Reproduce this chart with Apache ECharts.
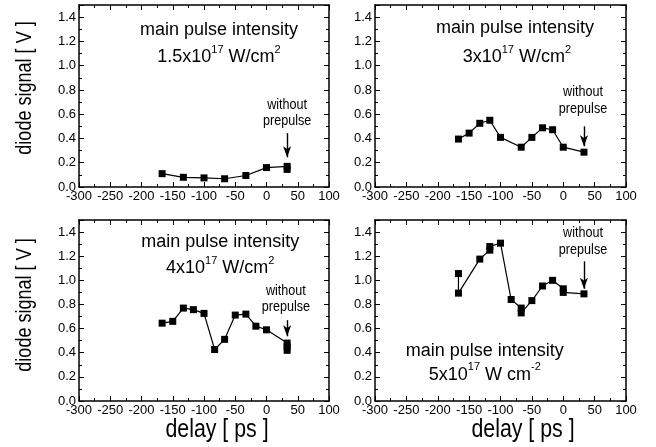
<!DOCTYPE html>
<html>
<head>
<meta charset="utf-8">
<script src="https://cdn.jsdelivr.net/npm/echarts@6/dist/echarts.min.js"></script>
<style>
  html, body { margin: 0; padding: 0; background: #fff; }
  #chart { width: 656px; height: 447px; }
</style>
</head>
<body>
<div id="chart"></div>
<script>
// Delay [ps] and diode signal [V] for each main pulse intensity.
// Repeated delays are repeated shots at the same setting.
const delays15 = [-167, -133, -100, -67, -33, 0, 33, 33];
const signal15 = [0.11, 0.08, 0.075, 0.068, 0.095, 0.16, 0.17, 0.145];

const delays3 = [-167, -150, -133, -117, -100, -67, -50, -33, -17, 0, 33];
const signal3 = [0.395, 0.444, 0.525, 0.55, 0.409, 0.328, 0.409, 0.488, 0.472, 0.328, 0.287];

const delays4 = [-167, -150, -133, -117, -100, -83, -67, -50, -33, -17, 0, 33, 33, 33];
const signal4 = [0.645, 0.66, 0.77, 0.757, 0.726, 0.427, 0.511, 0.712, 0.72, 0.62, 0.59, 0.48, 0.45, 0.42];

const delays5 = [-167, -167, -133, -117, -117, -100, -83, -67, -67, -50, -33, -17, 0, 0, 33];
const signal5 = [1.056, 0.894, 1.176, 1.25, 1.28, 1.308, 0.841, 0.77, 0.73, 0.832, 0.953, 1.0, 0.93, 0.90, 0.888];

// Intensity captions: [mantissa, exponent, unit, unit exponent]
const captions = [
  ['1.5x10', '17', ' W/cm', '2'],
  ['3x10', '17', ' W/cm', '2'],
  ['4x10', '17', ' W/cm', '2'],
  ['5x10', '17', ' W cm', '-2']
];

// Arrow marking the shot without prepulse: [delay, from signal, to signal]
const arrows = [
  [33, 0.444, 0.245],
  [33, 0.50, 0.336],
  [33, 0.67, 0.536],
  [33, 1.157, 0.93]
];

const xMin = -300, xMax = 100, xStep = 50;
const yMin = 0, yMax = 1.5, yStep = 0.2;

const SANS = "'Liberation Sans', Arial, Helvetica, sans-serif";

const panels = [
  { xs: delays15, ys: signal15, grid: { left: 79, top: 5, width: 250, height: 182 },
    title: [-76, 1.29], sub: [-76, 1.084], note: [33, 0.677, 0.544] },
  { xs: delays3, ys: signal3, grid: { left: 375, top: 5, width: 251, height: 182 },
    title: [-77, 1.308], sub: [-74, 1.084], note: [31.5, 0.785, 0.644] },
  { xs: delays4, ys: signal4, grid: { left: 79, top: 220, width: 250, height: 181 },
    title: [-74, 1.316], sub: [-74, 1.115], note: [31, 0.914, 0.78] },
  { xs: delays5, ys: signal5, grid: { left: 375, top: 220, width: 251, height: 181 },
    title: [-125, 0.41], sub: [-125, 0.235], note: [31.5, 1.39, 1.249] }
];

const frameLine = { show: true, onZero: false, lineStyle: { color: '#000', width: 1.5 } };
const tickIn = (len) => ({ show: true, inside: true, length: len, lineStyle: { color: '#000', width: 1 } });
const minorIn = { show: true, splitNumber: 2, length: 3, lineStyle: { color: '#000', width: 1 } };

const grids = [], xAxes = [], yAxes = [], series = [];

panels.forEach((p, i) => {
  grids.push(p.grid);
  const xBase = { type: 'value', gridIndex: i, min: xMin, max: xMax, interval: xStep,
    axisLine: frameLine, axisTick: tickIn(5), minorTick: minorIn, splitLine: { show: false } };
  const yBase = { type: 'value', gridIndex: i, min: yMin, max: yMax, interval: yStep,
    axisLine: frameLine, axisTick: tickIn(5), minorTick: minorIn, splitLine: { show: false } };

  xAxes.push(Object.assign({}, xBase, {
    position: 'bottom',
    axisLabel: { show: true, color: '#000', fontFamily: SANS, fontSize: 13, margin: 3 }
  }));
  xAxes.push(Object.assign({}, xBase, { position: 'top', axisLabel: { show: false } }));

  yAxes.push(Object.assign({}, yBase, {
    position: 'left',
    axisLabel: { show: true, color: '#000', fontFamily: SANS, fontSize: 13, margin: 3,
      formatter: (v) => (v > 1.45 ? '' : v.toFixed(1)) }
  }));
  yAxes.push(Object.assign({}, yBase, { position: 'right', axisLabel: { show: false } }));

  const a = arrows[i];
  series.push({
    type: 'line',
    xAxisIndex: i * 2,
    yAxisIndex: i * 2,
    data: p.xs.map((x, k) => [x, p.ys[k]]),
    symbol: 'rect',
    symbolSize: 7,
    showAllSymbol: true,
    itemStyle: { color: '#000' },
    lineStyle: { color: '#000', width: 1.2 },
    animation: false,
    silent: true,
    markLine: {
      silent: true,
      animation: false,
      symbol: ['none', 'arrow'],
      symbolSize: [6, 11],
      label: { show: false },
      lineStyle: { color: '#000', width: 1.4, type: 'solid' },
      data: [[{ coord: [a[0], a[1]] }, { coord: [a[0], a[2]] }]]
    }
  });
});

const chart = echarts.init(document.getElementById('chart'), null, { renderer: 'canvas' });
chart.setOption({
  backgroundColor: '#fff',
  animation: false,
  grid: grids,
  xAxis: xAxes,
  yAxis: yAxes,
  series: series
});

// Captions and axis titles placed from data coordinates of each panel.
const graphics = [];
panels.forEach((p, i) => {
  const c = captions[i];
  const t = chart.convertToPixel({ gridIndex: i }, p.title);
  const s = chart.convertToPixel({ gridIndex: i }, p.sub);
  const n1 = chart.convertToPixel({ gridIndex: i }, [p.note[0], p.note[1]]);
  const n2 = chart.convertToPixel({ gridIndex: i }, [p.note[0], p.note[2]]);
  graphics.push({ type: 'text', x: t[0], y: t[1], silent: true,
    style: { text: 'main pulse intensity', fontFamily: SANS, fontSize: 18, fill: '#000',
      align: 'center', verticalAlign: 'middle' } });
  graphics.push({ type: 'text', x: s[0], y: s[1], silent: true,
    style: { text: '{a|' + c[0] + '}{s|' + c[1] + '}{a|' + c[2] + '}{s|' + c[3] + '}',
      align: 'center', verticalAlign: 'middle', fill: '#000',
      rich: {
        a: { fontFamily: SANS, fontSize: 18, lineHeight: 22, verticalAlign: 'bottom', fill: '#000' },
        s: { fontFamily: SANS, fontSize: 11, lineHeight: 22, verticalAlign: 'top', fill: '#000' }
      } } });
  graphics.push({ type: 'text', x: n1[0], y: n1[1], silent: true, scaleX: 0.9,
    style: { text: 'without', fontFamily: SANS, fontSize: 14, fill: '#000',
      align: 'center', verticalAlign: 'middle' } });
  graphics.push({ type: 'text', x: n2[0], y: n2[1], silent: true, scaleX: 0.9,
    style: { text: 'prepulse', fontFamily: SANS, fontSize: 14, fill: '#000',
      align: 'center', verticalAlign: 'middle' } });
});

// Axis titles, set in a condensed face by squeezing along the text direction.
[88, 305].forEach((cy) => {
  graphics.push({ type: 'text', x: 25, y: cy, rotation: Math.PI / 2, scaleX: 0.82, silent: true,
    style: { text: 'diode signal [ V ]', fontFamily: SANS, fontSize: 22, fill: '#000',
      align: 'center', verticalAlign: 'middle' } });
});
[217, 523].forEach((cx) => {
  graphics.push({ type: 'text', x: cx, y: 430, scaleX: 0.82, silent: true,
    style: { text: 'delay [ ps ]', fontFamily: SANS, fontSize: 26, fill: '#000',
      align: 'center', verticalAlign: 'middle' } });
});

chart.setOption({ graphic: graphics });
</script>
</body>
</html>
